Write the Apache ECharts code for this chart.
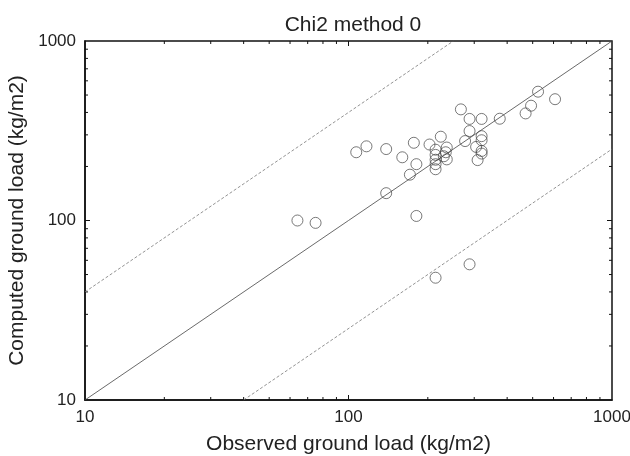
<!DOCTYPE html>
<html>
<head>
<meta charset="utf-8">
<script src="https://cdn.jsdelivr.net/npm/echarts@6/dist/echarts.min.js"></script>
<style>html,body{margin:0;padding:0;background:#fff}#c{width:630px;height:456px}</style>
</head>
<body>
<div id="c"></div>
<script>
// Observed vs computed ground load (kg/m2)
var observed = [64, 75, 107, 117, 139, 139, 160, 177, 181, 171, 181, 203, 224,
  214, 214, 214, 214, 214, 236, 234, 230, 236,
  267, 288, 320, 375, 288, 277,
  320, 320, 305, 320, 320, 309,
  470, 493, 524, 608, 214, 288];
var computed = [100, 97, 240, 259, 250, 142, 225, 271, 206, 180, 106, 265, 293,
  248, 232, 218, 206, 193, 255, 240, 228, 219,
  416, 368, 368, 369, 315, 277,
  295, 280, 257, 244, 236, 217,
  395, 436, 522, 474, 48, 57];
// reference lines: 1:1, x4 and /4
var oneToOneX = [10, 1000], oneToOneY = [10, 1000];
var upperX = [10, 250], upperY = [40, 1000];
var lowerX = [40, 1000], lowerY = [10, 250];
var majorTicks = [100];
var minorTicks = [20, 30, 40, 50, 60, 70, 80, 90, 200, 300, 400, 500, 600, 700, 800, 900];
var axisTickLabels = [10, 100, 1000];

function zip(a, b) { return a.map(function (v, i) { return [v, b[i]]; }); }

function tickRenderer(len) {
  return function (params, api) {
    var v = api.value(0);
    var cs = params.coordSys;
    var left = cs.x, right = cs.x + cs.width, top = cs.y, bottom = cs.y + cs.height;
    var px = api.coord([v, 10])[0];
    var py = api.coord([10, v])[1];
    var st = { stroke: '#111', lineWidth: 1 };
    return {
      type: 'group',
      children: [
        { type: 'line', shape: { x1: px, y1: bottom, x2: px, y2: bottom - len }, style: st },
        { type: 'line', shape: { x1: px, y1: top, x2: px, y2: top + len }, style: st },
        { type: 'line', shape: { x1: left, y1: py, x2: left + len, y2: py }, style: st },
        { type: 'line', shape: { x1: right, y1: py, x2: right - len, y2: py }, style: st }
      ]
    };
  };
}

var font = 'Liberation Sans, Arial, sans-serif';
var chart = echarts.init(document.getElementById('c'), null, { renderer: 'canvas' });
chart.setOption({
  animation: false,
  title: {
    text: 'Chi2 method 0', left: 348, top: 10, textAlign: 'center',
    textStyle: { fontFamily: font, fontSize: 21, fontWeight: 'normal', color: '#222' }
  },
  grid: { left: 85, right: 18, top: 41, bottom: 56, containLabel: false, outerBoundsMode: 'none',
    show: true, borderColor: '#111', borderWidth: 1.5, backgroundColor: 'transparent' },
  xAxis: {
    type: 'log', logBase: 10, min: 10, max: 1000,
    name: 'Observed ground load (kg/m2)', nameLocation: 'middle', nameGap: 34,
    nameTextStyle: { fontFamily: font, fontSize: 21, color: '#222' },
    axisLine: { show: true, lineStyle: { color: '#111', width: 1.5 } },
    axisTick: { show: false },
    splitLine: { show: false },
    axisLabel: {
      fontFamily: font, fontSize: 17, color: '#222', margin: 9, hideOverlap: false,
      formatter: function (v) { return axisTickLabels.indexOf(Math.round(v)) >= 0 ? String(Math.round(v)) : ''; }
    }
  },
  yAxis: {
    type: 'log', logBase: 10, min: 10, max: 1000,
    name: 'Computed ground load (kg/m2)', nameLocation: 'middle', nameGap: 53,
    nameTextStyle: { fontFamily: font, fontSize: 21, color: '#222' },
    axisLine: { show: true, lineStyle: { color: '#111', width: 1.5 } },
    axisTick: { show: false },
    splitLine: { show: false },
    axisLabel: {
      fontFamily: font, fontSize: 17, color: '#222', margin: 9, hideOverlap: false,
      formatter: function (v) { return axisTickLabels.indexOf(Math.round(v)) >= 0 ? String(Math.round(v)) : ''; }
    }
  },
  series: [
    { type: 'line', data: zip(oneToOneX, oneToOneY), symbol: 'none', silent: true,
      lineStyle: { color: '#444', width: 0.8 } },
    { type: 'line', data: zip(upperX, upperY), symbol: 'none', silent: true,
      lineStyle: { color: '#777', width: 0.8, type: [3, 2] } },
    { type: 'line', data: zip(lowerX, lowerY), symbol: 'none', silent: true,
      lineStyle: { color: '#777', width: 0.8, type: [3, 2] } },
    { type: 'scatter', data: zip(observed, computed), symbol: 'circle', symbolSize: 11,
      itemStyle: { color: 'rgba(0,0,0,0)', borderColor: '#444', borderWidth: 0.9 } },
    { type: 'custom', data: majorTicks.map(function (v) { return [v]; }), renderItem: tickRenderer(5), silent: true, clip: false },
    { type: 'custom', data: minorTicks.map(function (v) { return [v]; }), renderItem: tickRenderer(3), silent: true, clip: false }
  ]
});
</script>
</body>
</html>
